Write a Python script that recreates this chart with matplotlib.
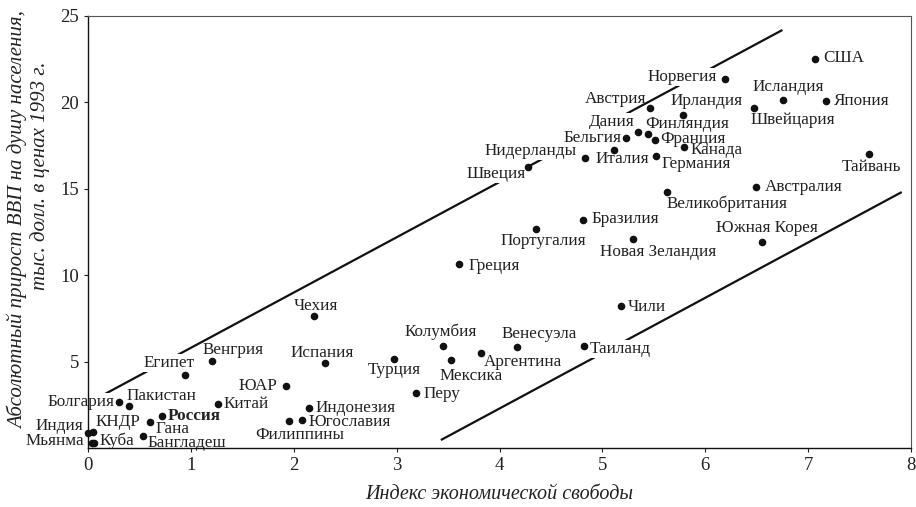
import matplotlib
matplotlib.use('Agg')
import matplotlib.pyplot as plt

plt.rcParams['font.family'] = ['Liberation Serif', 'DejaVu Serif']

# страны, индекс экономической свободы и прирост ВВП на душу (тыс. долл.)
countries = ['США', 'Норвегия', 'Исландия', 'Япония', 'Швейцария', 'Ирландия',
             'Австрия', 'Дания', 'Финляндия', 'Франция', 'Бельгия', 'Канада',
             'Италия', 'Германия', 'Нидерланды', 'Швеция', 'Тайвань', 'Австралия',
             'Великобритания', 'Бразилия', 'Южная Корея', 'Новая Зеландия',
             'Португалия', 'Греция', 'Чили', 'Таиланд', 'Венесуэла', 'Колумбия',
             'Аргентина', 'Мексика', 'Турция', 'Перу', 'Испания', 'Чехия',
             'Венгрия', 'Египет', 'ЮАР', 'Китай', 'Индонезия', 'Югославия',
             'Филиппины', 'Россия', 'Гана', 'Бангладеш', 'Болгария', 'Пакистан',
             'Индия', 'КНДР', 'Мьянма', 'Куба']
freedom = [7.07, 6.19, 6.76, 7.17, 6.47, 5.78,
           5.46, 5.35, 5.44, 5.51, 5.23, 5.79,
           5.11, 5.52, 4.83, 4.28, 7.59, 6.49,
           5.63, 4.81, 6.55, 5.30,
           4.35, 3.61, 5.18, 4.82, 4.17, 3.45,
           3.82, 3.53, 2.97, 3.19, 2.30, 2.20,
           1.21, 0.94, 1.92, 1.26, 2.15, 2.08,
           1.95, 0.72, 0.60, 0.53, 0.30, 0.40,
           0.00, 0.05, 0.04, 0.06]
gdp_growth = [22.51, 21.35, 20.14, 20.08, 19.68, 19.27,
              19.68, 18.29, 18.17, 17.82, 17.94, 17.42,
              17.25, 16.90, 16.78, 16.26, 17.01, 15.10,
              14.81, 13.19, 11.92, 12.09,
              12.67, 10.65, 8.22, 5.90, 5.84, 5.90,
              5.50, 5.09, 5.15, 3.18, 4.92, 7.64,
              5.03, 4.22, 3.59, 2.55, 2.31, 1.62,
              1.56, 1.85, 1.50, 0.69, 2.66, 2.43,
              0.87, 0.93, 0.29, 0.29]

# границы коридора
upper_x = [0.11, 6.75]
upper_y = [2.95, 24.19]
lower_x = [3.43, 7.91]
lower_y = [0.46, 14.81]

x_ticks = [0, 1, 2, 3, 4, 5, 6, 7, 8]
y_ticks = [5, 10, 15, 20, 25]

# смещения подписей (пиксели) и выравнивание
offsets = {
    'США': (8, 1, 'left'), 'Норвегия': (-8, 2, 'right'), 'Исландия': (5, 13, 'center'),
    'Япония': (8, 0, 'left'), 'Швейцария': (-3, -12, 'left'), 'Ирландия': (24, 14, 'center'),
    'Австрия': (-3, 9, 'right'), 'Дания': (-4, 10, 'right'), 'Финляндия': (-2, 10, 'left'),
    'Франция': (5, 1, 'left'), 'Бельгия': (-4, 0, 'right'), 'Канада': (7, -3, 'left'),
    'Италия': (9, -9, 'center'), 'Германия': (6, -8, 'left'), 'Нидерланды': (-8, 7, 'right'),
    'Швеция': (-2, -7, 'right'), 'Тайвань': (3, -13, 'center'), 'Австралия': (9, 0, 'left'),
    'Великобритания': (-1, -12, 'left'), 'Бразилия': (9, 1, 'left'),
    'Южная Корея': (5, 14, 'center'), 'Новая Зеландия': (-33, -13, 'left'),
    'Португалия': (-35, -12, 'left'), 'Греция': (9, -2, 'left'), 'Чили': (7, -1, 'left'),
    'Таиланд': (6, -3, 'left'), 'Венесуэла': (-15, 13, 'left'), 'Колумбия': (-2, 14, 'center'),
    'Аргентина': (3, -9, 'left'), 'Мексика': (-12, -16, 'left'), 'Турция': (1, -11, 'center'),
    'Перу': (7, -1, 'left'), 'Испания': (-2, 10, 'center'), 'Чехия': (2, 10, 'center'),
    'Венгрия': (-10, 11, 'left'), 'Египет': (-16, 12, 'center'), 'ЮАР': (-8, 0, 'right'),
    'Китай': (6, 0, 'left'), 'Индонезия': (6, 0, 'left'), 'Югославия': (7, -2, 'left'),
    'Филиппины': (11, -14, 'center'), 'Россия': (6, 0, 'left'), 'Гана': (6, -7, 'left'),
    'Бангладеш': (5, -7, 'left'), 'Болгария': (-4, 0, 'right'), 'Пакистан': (-3, 10, 'left'),
    'Индия': (-5, 7, 'right'), 'КНДР': (2, 10, 'left'), 'Мьянма': (-8, 2, 'right'),
    'Куба': (5, 2, 'left'),
}
# подписи, которые закрывают линии коридора
masked = ['Норвегия', 'Дания', 'Бельгия', 'Нидерланды', 'Швеция', 'Египет',
          'Болгария', 'Таиланд']

fig = plt.figure(figsize=(9.16, 5.07), dpi=100)
ax = fig.add_axes([88 / 916, 1 - 448 / 507, 823 / 916, 432 / 507])

ax.plot(upper_x, upper_y, color='#111111', lw=1.6, zorder=1, solid_capstyle='butt')
ax.plot(lower_x, lower_y, color='#111111', lw=1.6, zorder=1, solid_capstyle='butt')

ax.scatter(freedom, gdp_growth, s=20, color='#111111', zorder=5, clip_on=False)

for name, xv, yv in zip(countries, freedom, gdp_growth):
    dx, dy, ha = offsets[name]
    box = dict(boxstyle='square,pad=0.05', fc='white', ec='none') if name in masked else None
    ax.annotate(name, (xv, yv), xytext=(dx, dy), textcoords='offset pixels',
                ha=ha, va='center', fontsize=12.3, color='#222222',
                fontweight='bold' if name == 'Россия' else 'normal',
                bbox=box, zorder=3)

ax.set_xlim(0, 8)
ax.set_ylim(0, 25)
ax.set_xticks(x_ticks)
ax.set_yticks(y_ticks)
ax.tick_params(direction='out', length=3, width=0.8, labelsize=13.5, colors='#222222')
for side in ['left', 'bottom']:
    ax.spines[side].set_linewidth(1.0)
    ax.spines[side].set_color('#111111')
for side in ['top', 'right']:
    ax.spines[side].set_linewidth(0.8)
    ax.spines[side].set_color('#555555')
for sp in ax.spines.values():
    sp.set_zorder(6)

ax.set_xlabel('Индекс экономической свободы', fontsize=14.5, style='italic',
              color='#222222', labelpad=8)
fig.text(18 / 916, 1 - 220 / 507, 'Абсолютный прирост ВВП на душу населения,',
         rotation=90, ha='center', va='center', fontsize=15, style='italic', color='#222222')
fig.text(40 / 916, 1 - 176 / 507, 'тыс. долл. в ценах 1993 г.',
         rotation=90, ha='center', va='center', fontsize=15, style='italic', color='#222222')

fig.savefig('out.png', dpi=100)
